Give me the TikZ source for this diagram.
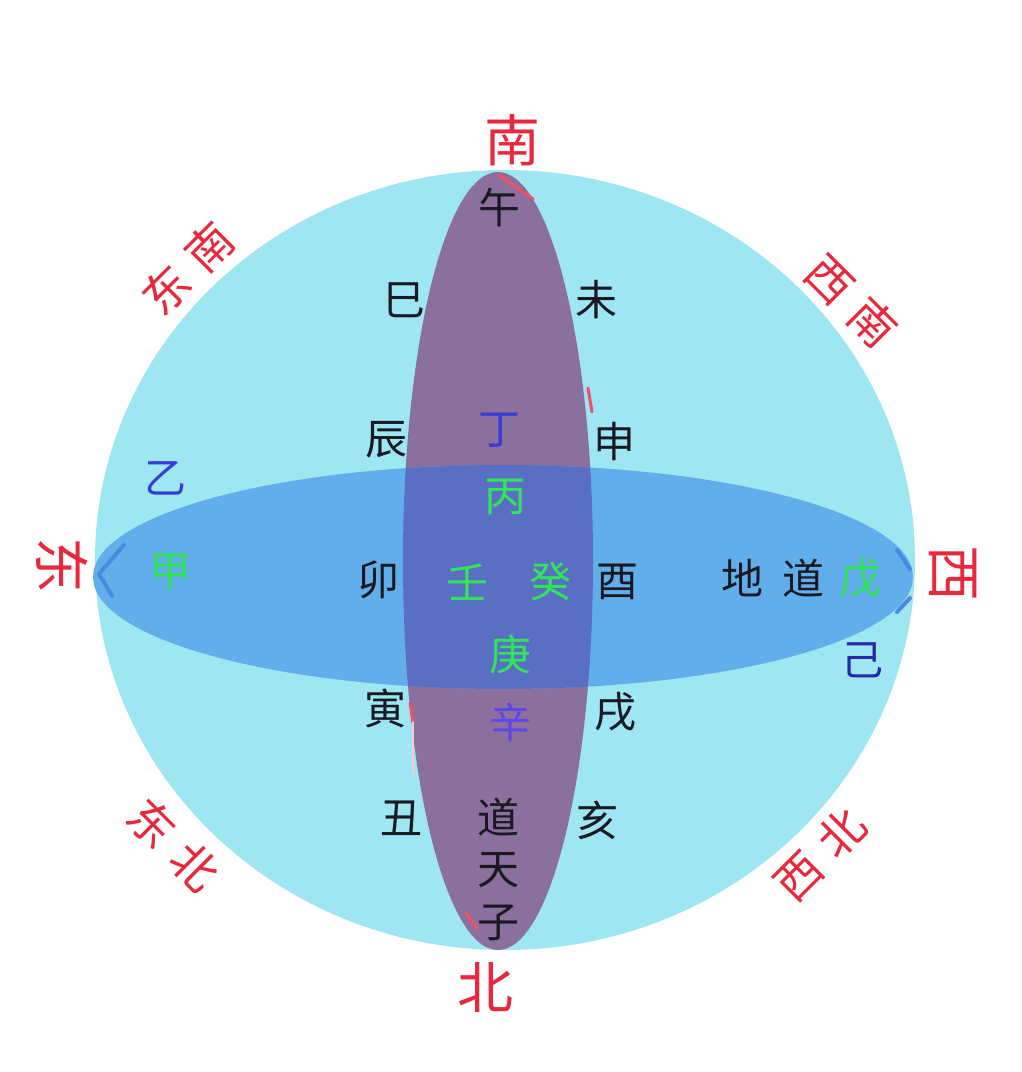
\documentclass[tikz,border=0pt]{standalone}
\usepackage{fontspec}
\setmainfont{Noto Sans CJK SC}
\definecolor{cyanbg}{RGB}{157,230,242}
\definecolor{purp}{RGB}{139,111,156}
\definecolor{blueE}{RGB}{98,174,234}
\definecolor{overl}{RGB}{90,111,196}
\definecolor{redT}{RGB}{232,40,60}
\definecolor{greenT}{RGB}{50,228,90}
\definecolor{blueT}{RGB}{55,60,215}
\definecolor{violT}{RGB}{95,70,235}
\definecolor{navyT}{RGB}{40,40,170}
\definecolor{blackT}{RGB}{25,25,35}
\definecolor{chev}{RGB}{70,140,225}
\begin{document}
\begin{tikzpicture}[x=1pt,y=-1pt,
  lab/.style={inner sep=0pt, font=\fontsize{42}{42}\selectfont, text=blackT},
  dir/.style={inner sep=0pt, font=\fontsize{56}{56}\selectfont, text=redT},
  diag/.style={inner sep=0pt, font=\fontsize{46}{46}\selectfont, text=redT},
  grn/.style={lab, text=greenT},
  redmark/.style={draw=redT!80, line width=3pt, line cap=round},
  chevmark/.style={draw=chev, line width=4pt, line cap=round}]
\useasboundingbox (0,0) rectangle (1022,1072);
\fill[white] (0,0) rectangle (1022,1072);
% spheres
\fill[cyanbg] (505,560) ellipse [x radius=410, y radius=390];
\fill[purp] (498,561) ellipse [x radius=95, y radius=389];
\fill[blueE] (503,577) ellipse [x radius=410, y radius=112];
\begin{scope}
  \clip (498,561) ellipse [x radius=95, y radius=389];
  \fill[overl] (503,577) ellipse [x radius=410, y radius=112];
\end{scope}
% small red marks
\coordinate (r1a) at (499,175); \coordinate (r1b) at (533,199);
\coordinate (r2a) at (588,388); \coordinate (r2b) at (592,412);
\coordinate (r3a) at (410,703); \coordinate (r3b) at (413,722);
\coordinate (r3c) at (413,775);
\coordinate (r4a) at (466,913); \coordinate (r4b) at (477,929);
\draw[redmark] (r1a) -- (r1b);
\draw[redmark] (r2a) -- (r2b);
\draw[redmark] (r3a) -- (r3b);
\draw[redmark, draw=redT!25, line width=1.5pt] (r3b) -- (r3c);
\draw[redmark] (r4a) -- (r4b);
% blue chevrons
\coordinate (c1a) at (124,545); \coordinate (c1b) at (99,574); \coordinate (c1c) at (112,596);
\coordinate (c2a) at (897,550); \coordinate (c2b) at (910,569);
\coordinate (c3a) at (910,598); \coordinate (c3b) at (897,612);
\draw[chevmark] (c1a) -- (c1b) -- (c1c);
\draw[chevmark] (c2a) -- (c2b);
\draw[chevmark] (c3a) -- (c3b);
% compass labels
\node[dir] (S) at (512,140) {南};
\node[dir] (N) at (485,987) {北};
\node[dir, rotate=-90] (E) at (62,565) {东};
\node[dir, rotate=-90] (W) at (953,573) {西};
\node[diag, rotate=45] (SE) at (188,268) {东\hspace{15pt}南};
\node[diag, rotate=-45] (SW) at (852,301) {西\hspace{15pt}南};
\node[diag, rotate=-45] (NE) at (174,845) {东\hspace{15pt}北};
\node[diag, rotate=45] (NW) at (820,855) {西\hspace{15pt}北};
% branches
\node[lab] (wu) at (499,207) {午};
\node[lab] (si) at (404,300) {巳};
\node[lab] (wei) at (596,300) {未};
\node[lab] (chen) at (386,440) {辰};
\node[lab] (shen) at (614,442) {申};
\node[lab] (mao) at (378,580) {卯};
\node[lab] (you) at (617,582) {酉};
\node[lab] (yin) at (385,708) {寅};
\node[lab] (xu) at (615,712) {戌};
\node[lab] (chou) at (401,818) {丑};
\node[lab] (hai) at (597,820) {亥};
\node[lab] (dao1) at (498,817) {道};
\node[lab] (tian) at (498,870) {天};
\node[lab] (zi) at (498,923) {子};
\node[lab] (di) at (742,578) {地};
\node[lab] (dao2) at (803,578) {道};
% stems
\node[lab, text=blueT] (ding) at (499,430) {丁};
\node[grn] (bing) at (505,497) {丙};
\node[grn] (ren) at (467,582) {壬};
\node[grn] (gui) at (550,582) {癸};
\node[grn] (geng) at (510,655) {庚};
\node[lab, text=violT] (xin) at (510,722) {辛};
\node[lab, text=blueT] (yi) at (165,478) {乙};
\node[grn] (jia) at (170,572) {甲};
\node[grn] (wu2) at (860,578) {戊};
\node[lab, text=navyT] (ji) at (862,660) {己};
\end{tikzpicture}
\end{document}
